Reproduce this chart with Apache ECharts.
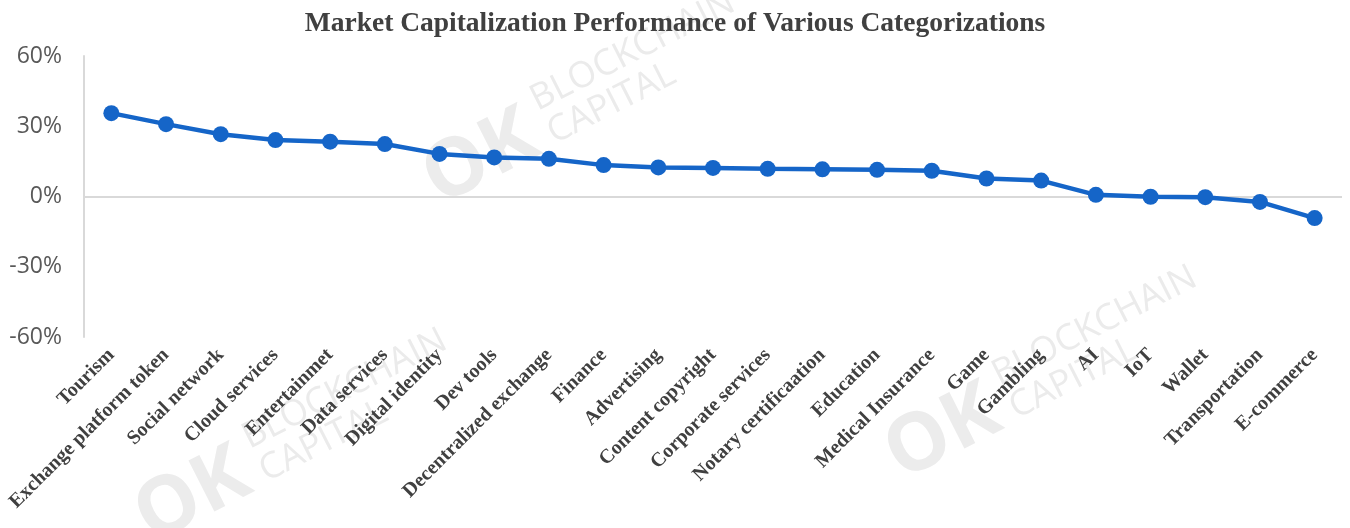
<!DOCTYPE html>
<html>
<head>
<meta charset="utf-8">
<script src="https://cdn.jsdelivr.net/npm/echarts@6/dist/echarts.min.js"></script>
<style>html,body{margin:0;padding:0;background:#fff;}#c{width:1350px;height:528px;}</style>
</head>
<body>
<div id="c"></div>
<script>
const categories = ["Tourism","Exchange platform token","Social network","Cloud services","Entertainmet","Data services","Digital identity","Dev tools","Decentralized exchange","Finance","Advertising","Content copyright","Corporate services","Notary certificaation","Education","Medical Insurance","Game","Gambling","AI","IoT","Wallet","Transportation","E-commerce"];
const values = [35.6, 30.9, 26.6, 24.1, 23.4, 22.4, 18.2, 16.7, 16.1, 13.4, 12.4, 12.2, 11.8, 11.6, 11.4, 11.0, 7.7, 6.8, 0.7, -0.1, -0.3, -2.3, -9.2];
const yTicks = {min: -60, max: 60, interval: 30};
const titleText = "Market Capitalization Performance of Various Categorizations";

const chart = echarts.init(document.getElementById('c'));
const ROT = 0.47;
const wm = (x, y) => ([
  {type:'text', x:x, y:y, rotation:ROT, z:0, silent:true, style:{text:'OK', fill:'#ececec', font:'bold 80px "Open Sans", sans-serif', textAlign:'left', textVerticalAlign:'bottom'}},
  {type:'text', x:x+94, y:y-103, rotation:ROT, z:0, silent:true, style:{text:'BLOCKCHAIN', fill:'#ebebeb', font:'36px "Open Sans", sans-serif', textAlign:'left', textVerticalAlign:'bottom'}},
  {type:'text', x:x+111, y:y-70, rotation:ROT, z:0, silent:true, style:{text:'CAPITAL', fill:'#ebebeb', font:'36px "Open Sans", sans-serif', textAlign:'left', textVerticalAlign:'bottom'}}
]);
chart.setOption({
  animation:false,
  title:{text:titleText, left:'center', top:5, textStyle:{fontFamily:'"Liberation Serif", serif', fontWeight:'bold', fontSize:27.5, color:'#404040'}},
  graphic:[].concat(wm(447,221), wm(159,559), wm(909,496)),
  grid:{left:84, right:8, top:56, bottom:191, containLabel:false},
  xAxis:{type:'category', data:categories, boundaryGap:true,
    axisLine:{show:false, onZero:false}, axisTick:{show:false},
    axisLabel:{rotate:45, interval:0, margin:15, fontFamily:'"Liberation Serif", serif', fontWeight:'bold', fontSize:20, color:'#404040'}},
  yAxis:{type:'value', min:yTicks.min, max:yTicks.max, interval:yTicks.interval,
    axisLine:{show:true, lineStyle:{color:'#d9d9d9', width:2}}, axisTick:{show:false}, splitLine:{show:false},
    axisLabel:{formatter:v=>v+'%', fontFamily:'"Open Sans", sans-serif', fontSize:23, color:'#595959', margin:22}},
  series:[{type:'line', data:values, symbol:'circle', symbolSize:16,
    lineStyle:{color:'#1565c8', width:4.5}, itemStyle:{color:'#1565c8'}, z:5,
    markLine:{silent:true, symbol:'none', label:{show:false}, lineStyle:{color:'#d9d9d9', width:2, type:'solid'}, data:[{yAxis:0}]}
  }]
});
</script>
</body>
</html>
